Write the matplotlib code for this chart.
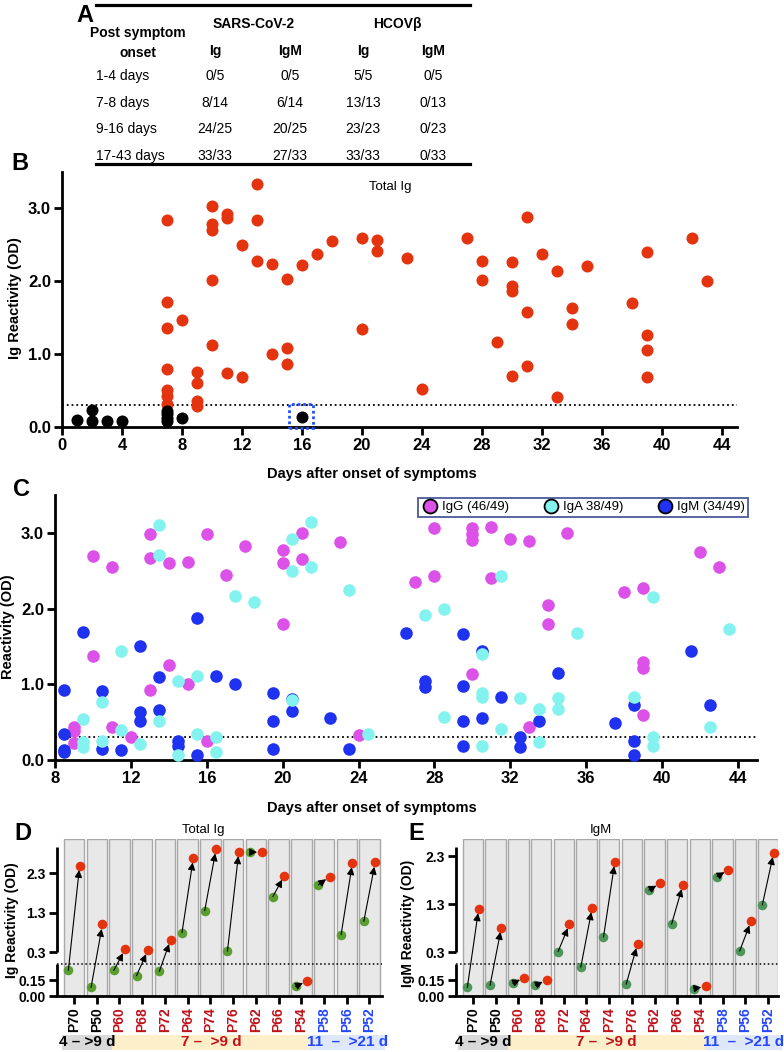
import numpy as np
import matplotlib.pyplot as plt
from matplotlib.lines import Line2D
from matplotlib.patches import Rectangle

plt.rcParams['font.family'] = ['Liberation Sans', 'DejaVu Sans']
plt.rcParams['font.weight'] = 'bold'
plt.rcParams['axes.labelweight'] = 'bold'

W, H = 784, 1052

# ---------------------------------------------------------------- data
# A: seroconversion table
row_labels = ["1-4 days", "7-8 days", "9-16 days", "17-43 days"]
sars_ig = ["0/5", "8/14", "24/25", "33/33"]
sars_igm = ["0/5", "6/14", "20/25", "27/33"]
hcov_ig = ["5/5", "13/13", "23/23", "33/33"]
hcov_igm = ["0/5", "0/13", "0/23", "0/33"]

# B: total Ig, negative (black) and positive (red)
neg_days = [1, 2, 2, 3, 4, 7, 7, 7, 7, 8, 16]
neg_od = [0.10, 0.23, 0.08, 0.08, 0.08, 0.22, 0.18, 0.12, 0.08, 0.12, 0.14]
pos_days = [7, 7, 7, 7, 7, 7, 7, 8, 9, 9, 9, 9, 10, 10, 10, 10, 10, 11, 11, 11,
            12, 12, 13, 13, 13, 14, 14, 15, 15, 15, 16, 17, 18, 20, 20, 21, 21,
            23, 24, 27, 28, 28, 29, 30, 30, 30, 30, 31, 31, 31, 32, 33, 33, 34,
            34, 35, 38, 39, 39, 39, 39, 42, 43]
pos_od = [2.84, 1.71, 1.36, 0.79, 0.51, 0.42, 0.32, 1.47, 0.75, 0.60, 0.36, 0.29,
          3.03, 2.79, 2.70, 2.02, 1.13, 2.93, 2.87, 0.74, 2.50, 0.69, 3.34, 2.84,
          2.28, 2.24, 1.00, 2.03, 1.08, 0.86, 2.22, 2.37, 2.55, 2.60, 1.35, 2.57,
          2.41, 2.32, 0.52, 2.59, 2.28, 2.02, 1.16, 2.26, 1.94, 1.86, 0.70, 2.88,
          1.58, 0.84, 2.37, 2.14, 0.41, 1.63, 1.42, 2.21, 1.70, 2.40, 1.26, 1.06,
          0.69, 2.59, 2.01]

# C: isotypes
igg_days = [10, 11, 13, 13, 14, 15, 16, 17, 18, 20, 20, 20, 21, 21, 23, 10, 14,
            13, 15, 9, 9, 9, 11, 12, 16, 24,
            27, 28, 28, 30, 30, 30, 31, 31, 32, 33, 35, 34, 34, 30, 33, 38, 39,
            39, 39, 39, 42, 43]
igg_od = [2.70, 2.55, 2.98, 2.67, 2.60, 2.61, 2.98, 2.44, 2.82, 2.78, 2.60, 1.80,
          3.00, 2.66, 2.88, 1.38, 1.26, 0.93, 1.00, 0.43, 0.38, 0.22, 0.43, 0.31,
          0.25, 0.33,
          2.35, 3.06, 2.43, 3.07, 2.99, 2.91, 3.08, 2.40, 2.92, 2.89, 3.00, 2.05,
          1.80, 1.14, 0.43, 2.22, 2.27, 1.30, 1.21, 0.59, 2.75, 2.55]
iga_days = [13.5, 13.5, 21.5, 20.5, 20.5, 21.5, 17.5, 18.5, 23.5, 11.5, 14.5,
            15.5, 10.5, 20.5, 9.5, 13.5, 9.5, 9.5, 10.5, 11.5, 12.5, 14.5, 15.5,
            16.5, 16.5, 24.5,
            27.5, 28.5, 31.5, 35.5, 39.5, 43.5, 30.5, 30.5, 30.5, 28.5, 31.5,
            32.5, 33.5, 34.5, 34.5, 33.5, 30.5, 38.5, 39.5, 39.5, 42.5]
iga_od = [3.10, 2.71, 3.15, 2.92, 2.50, 2.55, 2.17, 2.09, 2.24, 1.44, 1.05, 1.11,
          0.76, 0.79, 0.54, 0.51, 0.24, 0.17, 0.25, 0.39, 0.21, 0.07, 0.35, 0.31,
          0.10, 0.34,
          1.91, 2.00, 2.43, 1.68, 2.15, 1.73, 1.40, 0.89, 0.83, 0.57, 0.41, 0.82,
          0.68, 0.82, 0.67, 0.24, 0.18, 0.83, 0.31, 0.18, 0.43]
igm_days = [9.5, 8.5, 8.5, 8.5, 8.5, 10.5, 10.5, 11.5, 12.5, 12.5, 12.5, 13.5,
            13.5, 14.5, 14.5, 15.5, 15.5, 16.5, 17.5, 19.5, 19.5, 19.5, 20.5,
            20.5, 22.5, 23.5,
            26.5, 29.5, 30.5, 27.5, 27.5, 29.5, 31.5, 29.5, 30.5, 29.5, 32.5,
            32.5, 33.5, 34.5, 37.5, 38.5, 38.5, 38.5, 41.5, 42.5]
igm_od = [1.69, 0.93, 0.34, 0.13, 0.10, 0.91, 0.14, 0.13, 1.51, 0.63, 0.51, 1.10,
          0.66, 0.25, 0.18, 1.88, 0.07, 1.11, 1.01, 0.89, 0.51, 0.14, 0.80, 0.65,
          0.55, 0.15,
          1.68, 1.67, 1.44, 1.05, 0.97, 0.98, 0.83, 0.51, 0.55, 0.18, 0.30, 0.17,
          0.52, 1.15, 0.49, 0.73, 0.25, 0.07, 1.44, 0.73]

# D / E: paired samples
patients = ["P70", "P50", "P60", "P68", "P72", "P64", "P74", "P76", "P62",
            "P66", "P54", "P58", "P56", "P52"]
patient_group = [0, 0, 1, 1, 1, 1, 1, 1, 1, 1, 1, 2, 2, 2]
group_labels = ["4 – >9 d", "7 –  >9 d", "11  –  >21 d"]
ig_first = [0.24, 0.08, 0.24, 0.19, 0.23, 0.79, 1.35, 0.32, 2.84, 1.71, 0.09,
            2.01, 0.74, 1.08]
ig_second = [2.50, 1.00, 0.37, 0.35, 0.61, 2.69, 2.92, 2.85, 2.84, 2.24, 0.14,
             2.22, 2.57, 2.58]
igm_first = [0.08, 0.10, 0.12, 0.10, 0.31, 0.27, 0.61, 0.11, 1.59, 0.88, 0.07,
             1.87, 0.32, 1.28]
igm_second = [1.20, 0.81, 0.17, 0.15, 0.88, 1.22, 2.18, 0.47, 1.73, 1.70, 0.09,
              2.01, 0.94, 2.37]

# ---------------------------------------------------------------- style
RED = '#e3340f'
MAGENTA = '#dc52e8'
CYAN = '#84f3f0'
BLUE = '#1e32f0'
GROUP_TEXT = ['black', '#c0121a', '#2346ff']
GROUP_FILL = ['#d9d9d9', '#fcefc9', '#dfe7fa']
TABLE_FONT = ['Liberation Sans Narrow', 'Liberation Sans', 'DejaVu Sans']


def rect(left, top, right, bottom):
    return [left / W, 1 - bottom / H, (right - left) / W, (bottom - top) / H]


def fx(x):
    return x / W


def fy(y):
    return 1 - y / H


def bold_ticks(ax):
    plt.setp(ax.get_xticklabels() + ax.get_yticklabels(), fontweight='bold')


fig = plt.figure(figsize=(W / 100, H / 100), dpi=100)


def letter(s, x, y):
    fig.text(fx(x), fy(y), s, fontsize=17, fontweight='bold', ha='center',
             va='center')


# ---------------------------------------------------------------- A
letter("A", 85, 16)
for y in (5, 164):
    fig.add_artist(Line2D([fx(96), fx(470)], [fy(y), fy(y)], color='black', lw=2.3))
hdr = dict(fontsize=10, family=TABLE_FONT, fontweight='bold', ha='center',
           va='center')
fig.text(fx(254), fy(24), "SARS-CoV-2", **hdr)
fig.text(fx(397), fy(24), "HCOVβ", **hdr)
fig.text(fx(138), fy(43), "Post symptom\nonset", linespacing=1.5, **hdr)
col_x = [215, 290, 363, 433]
for x, s in zip(col_x, ["Ig", "IgM", "Ig", "IgM"]):
    fig.text(fx(x), fy(51), s, **hdr)
row_y = [76, 103, 129, 156]
cell = dict(fontsize=10, family=TABLE_FONT, fontweight='normal', va='center')
for y, lab, *vals in zip(row_y, row_labels, sars_ig, sars_igm, hcov_ig, hcov_igm):
    fig.text(fx(96), fy(y), lab, ha='left', **cell)
    for x, v in zip(col_x, vals):
        fig.text(fx(x), fy(y), v, ha='center', **cell)


# ---------------------------------------------------------------- B, C
def scatter_axes(ax, xmin, xticks):
    ax.set_xlim(xmin, 45)
    ax.set_ylim(0, 3.5)
    for side in ('top', 'right'):
        ax.spines[side].set_visible(False)
    for side in ('left', 'bottom'):
        ax.spines[side].set_linewidth(2)
    ax.tick_params(width=2, length=6, labelsize=12, pad=2)
    ax.set_xticks(xticks)
    ax.set_yticks([0, 1, 2, 3], labels=['0.0', '1.0', '2.0', '3.0'])
    bold_ticks(ax)
    ax.axhline(0.3, color='black', ls=':', lw=1.3, zorder=1)


letter("B", 20, 163)
axB = fig.add_axes(rect(62, 172, 737, 427))
scatter_axes(axB, 0, range(0, 45, 4))
axB.scatter(pos_days, pos_od, s=75, color=RED, lw=0, zorder=3, clip_on=False)
axB.scatter(neg_days, neg_od, s=75, color='black', lw=0, zorder=4, clip_on=False)
axB.add_patch(Rectangle((15.15, -0.01), 1.6, 0.32, fill=False, edgecolor='#2050ff',
                        ls=(0, (1, 1)), lw=2, zorder=5, clip_on=False))
axB.text(0.486, 0.94, "Total Ig", transform=axB.transAxes, fontsize=9.5,
         fontweight='normal', ha='center', va='center')
axB.set_ylabel("Ig Reactivity (OD)", fontsize=10.5, fontweight='bold')
axB.yaxis.set_label_coords(-0.059, 0.506)
axB.set_xlabel("Days after onset of symptoms", fontsize=10.5, fontweight='bold')
axB.xaxis.set_label_coords(0.459, -0.155)

letter("C", 22, 490)
axC = fig.add_axes(rect(55, 495, 757, 760))
scatter_axes(axC, 8, range(8, 45, 4))
axC.scatter(igg_days, igg_od, s=82, color=MAGENTA, lw=0, zorder=3, clip_on=False)
axC.scatter(igm_days, igm_od, s=82, color=BLUE, lw=0, zorder=4, clip_on=False)
axC.scatter(iga_days, iga_od, s=82, color=CYAN, lw=0, zorder=5, clip_on=False)
handles = [Line2D([], [], ls='none', marker='o', markersize=10, markerfacecolor=c,
                  markeredgecolor='black', markeredgewidth=1.3)
           for c in (MAGENTA, CYAN, BLUE)]
leg = axC.legend(handles, ["IgG (46/49)", "IgA 38/49)", "IgM (34/49)"], ncol=3,
                 loc='upper right', bbox_to_anchor=(0.997, 1.014), fancybox=False,
                 edgecolor='#4b5b9b', framealpha=1, borderpad=0.25,
                 handletextpad=0.3, columnspacing=2.6, handlelength=1.2,
                 prop={'size': 9.5, 'weight': 'normal'})
leg.get_frame().set_linewidth(1.3)
axC.set_ylabel("Reactivity (OD)", fontsize=10.5, fontweight='bold')
axC.yaxis.set_label_coords(-0.057, 0.502)
axC.set_xlabel("Days after onset of symptoms", fontsize=10.5, fontweight='bold')
axC.xaxis.set_label_coords(0.452, -0.155)


# ---------------------------------------------------------------- D, E
def broken_scale(k):
    def fwd(v):
        v = np.asarray(v, float)
        return np.where(v < 0.3, v / 0.3 * 32, 44 + (v - 0.3) * k)

    def inv(y):
        y = np.asarray(y, float)
        return np.where(y < 32, y * 0.3 / 32,
                        np.where(y < 44, 0.3, 0.3 + (y - 44) / k))
    return fwd, inv


def paired_panel(ax, first, second, k, xlim, seg_top, green, title, band_edges):
    top = 0.3 + (157 - 44) / k
    below = np.nextafter(0.3, 0)
    pos = np.arange(len(patients))
    ax.set_yscale('function', functions=broken_scale(k))
    ax.set_xlim(*xlim)
    ax.set_ylim(0, top)
    ax.bar(pos, top, width=0.9, color='#e8e8e8', edgecolor='#a8a8a8', lw=1,
           zorder=1)
    ax.axhline(below, color='black', ls=':', lw=1.1, zorder=2)
    ax.scatter(pos - 0.25, first, s=48, color=green, lw=0, zorder=3, clip_on=False)
    for x, a, b in zip(pos, first, second):
        ax.annotate('', xy=(x + 0.25, b), xytext=(x - 0.25, a),
                    arrowprops=dict(arrowstyle='-|>', color='black', lw=0.8,
                                    shrinkA=0, shrinkB=3.2, mutation_scale=11),
                    zorder=4)
    ax.scatter(pos + 0.25, second, s=48, color=RED, lw=0, zorder=5, clip_on=False)

    for side in ('top', 'right', 'left'):
        ax.spines[side].set_visible(False)
    ax.spines['bottom'].set_linewidth(2)
    tr = ax.get_yaxis_transform()
    ax.plot([0, 0], [0, below], transform=tr, color='black', lw=2, clip_on=False,
            solid_capstyle='butt')
    ax.plot([0, 0], [0.3, seg_top], transform=tr, color='black', lw=2,
            clip_on=False, solid_capstyle='butt')
    ax.set_yticks([0, 0.15, 0.3, 1.3, 2.3],
                  labels=['0.00', '0.15', '0.3', '1.3', '2.3'])
    ax.set_xticks(pos, labels=patients, rotation=90)
    ax.tick_params(width=2, length=6, labelsize=10, pad=2)
    ax.tick_params(axis='x', labelsize=10)
    bold_ticks(ax)
    for lab, g in zip(ax.get_xticklabels(), patient_group):
        lab.set_color(GROUP_TEXT[g])
    ax.set_title(title, x=0.45, fontsize=9.5, fontweight='normal', pad=4)

    xt = ax.get_xaxis_transform()
    for g, lab in enumerate(group_labels):
        x0, x1 = band_edges[g], band_edges[g + 1]
        ax.add_patch(Rectangle((x0, -0.344), x1 - x0, 0.0955, transform=xt,
                               facecolor=GROUP_FILL[g], edgecolor='none',
                               clip_on=False))
        ax.text((x0 + x1) / 2, -0.296, lab, transform=xt, ha='center',
                va='center', color=GROUP_TEXT[g], fontsize=11, fontweight='bold')


letter("D", 23, 834)
axD = fig.add_axes(rect(57, 839, 382, 996))
paired_panel(axD, ig_first, ig_second, 39.3, (-0.748, 13.55), 2.97, '#5a9e32',
             "Total Ig", [-0.53, 1.67, 10.38, 13.68])
axD.set_ylabel("Ig Reactivity (OD)", fontsize=10, fontweight='bold')
axD.yaxis.set_label_coords(-0.117, 0.484)

letter("E", 416, 834)
axE = fig.add_axes(rect(456, 839, 778, 996))
paired_panel(axE, igm_first, igm_second, 48, (-0.749, 13.44), 2.49, '#4e9659',
             "IgM", [-0.66, 1.54, 10.22, 13.6])
axE.set_ylabel("IgM Reactivity (OD)", fontsize=10, fontweight='bold')
axE.yaxis.set_label_coords(-0.127, 0.465)

fig.savefig("out.png", dpi=100)
